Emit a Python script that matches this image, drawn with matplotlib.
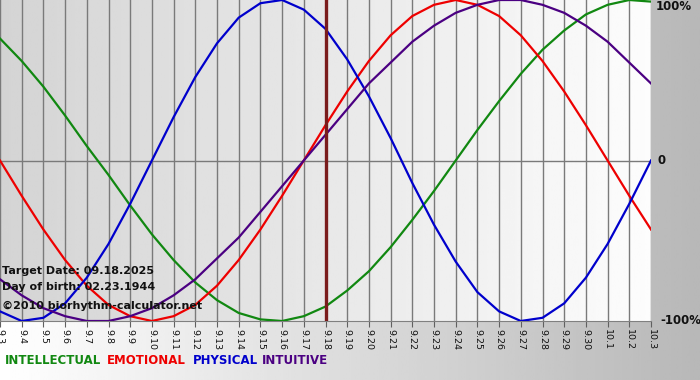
import matplotlib
matplotlib.use('Agg')
import matplotlib.pyplot as plt
import numpy as np

# Days shown on the chart (9.3 .. 10.3), one value per day
days = ['9.3', '9.4', '9.5', '9.6', '9.7', '9.8', '9.9', '9.10', '9.11', '9.12',
        '9.13', '9.14', '9.15', '9.16', '9.17', '9.18', '9.19', '9.20', '9.21',
        '9.22', '9.23', '9.24', '9.25', '9.26', '9.27', '9.28', '9.29', '9.30',
        '10.1', '10.2', '10.3']

physical = [-0.94, -1.00, -0.98, -0.89, -0.73, -0.52, -0.27, 0.00, 0.27, 0.52,
            0.73, 0.89, 0.98, 1.00, 0.94, 0.82, 0.63, 0.40, 0.14, -0.14,
            -0.40, -0.63, -0.82, -0.94, -1.00, -0.98, -0.89, -0.73, -0.52, -0.27, 0.00]
emotional = [0.00, -0.22, -0.43, -0.62, -0.78, -0.90, -0.97, -1.00, -0.97, -0.90,
             -0.78, -0.62, -0.43, -0.22, 0.00, 0.22, 0.43, 0.62, 0.78, 0.90,
             0.97, 1.00, 0.97, 0.90, 0.78, 0.62, 0.43, 0.22, 0.00, -0.22, -0.43]
intellectual = [0.76, 0.62, 0.46, 0.28, 0.09, -0.09, -0.28, -0.46, -0.62, -0.76,
                -0.87, -0.95, -0.99, -1.00, -0.97, -0.91, -0.81, -0.69, -0.54, -0.37,
                -0.19, 0.00, 0.19, 0.37, 0.54, 0.69, 0.81, 0.91, 0.97, 1.00, 0.99]
intuitive = [-0.74, -0.84, -0.92, -0.97, -1.00, -1.00, -0.97, -0.92, -0.84, -0.74,
             -0.61, -0.48, -0.32, -0.16, 0.00, 0.16, 0.32, 0.48, 0.61, 0.74,
             0.84, 0.92, 0.97, 1.00, 1.00, 0.97, 0.92, 0.84, 0.74, 0.61, 0.48]

target_day = '9.18'
target_text = 'Target Date: 09.18.2025'
birth_text = 'Day of birth: 02.23.1944'
copy_text = '\u00a92010 biorhythm-calculator.net'

W, H = 700, 380
fig = plt.figure(figsize=(7, 3.8), dpi=100)

# figure background: white on the left fading to gray on the right
bg = fig.add_axes([0, 0, 1, 1], zorder=-5)
grad = np.linspace(1.0, 0.72, 256)[None, :]
bg.imshow(grad, cmap='gray', vmin=0, vmax=1, aspect='auto', extent=[0, 1, 0, 1])
bg.axis('off')

ax = fig.add_axes([0, 59 / H, 651 / W, 321 / H])
x = np.arange(len(days))
ax.set_xlim(0, len(days) - 1)
ax.set_ylim(-1.0, 1.0)

# plot area background: light gray to white
pgrad = np.linspace(0.83, 0.99, 256)[None, :]
ax.imshow(pgrad, cmap='gray', vmin=0, vmax=1, aspect='auto',
          extent=[0, len(days) - 1, -1, 1], zorder=0)

for xi in x:
    ax.axvline(xi, color='#7a7a7a', lw=1, zorder=1)
ax.axhline(0, color='#7a7a7a', lw=1, zorder=1)

ax.plot(x, intellectual, color='#118811', lw=1.6, zorder=3)
ax.plot(x, emotional, color='#ee0000', lw=1.6, zorder=3)
ax.plot(x, physical, color='#0000cc', lw=1.6, zorder=3)
ax.plot(x, intuitive, color='#4b0082', lw=1.6, zorder=3)

ax.axvline(days.index(target_day), color='#7a1c1c', lw=2.4, zorder=4)

ax.set_xticks(x)
ax.set_xticklabels(days, rotation=-90, fontsize=6.8, color='#111111')
ax.tick_params(axis='x', length=4, color='#606060', pad=2)
ax.set_yticks([])
for s in ['top', 'right', 'left']:
    ax.spines[s].set_visible(False)
ax.spines['bottom'].set_color('#808080')

tkw = dict(fontsize=8, fontweight='bold', color='#111111', zorder=6)
fig.text(2 / W, 1 - 271 / H, target_text, va='center', **tkw)
fig.text(2 / W, 1 - 287 / H, birth_text, va='center', **tkw)
fig.text(2 / W, 1 - 306 / H, copy_text, va='center', **tkw)

rkw = dict(fontsize=8.5, fontweight='bold', color='#111111', va='center')
fig.text(656 / W, 1 - 7 / H, '100%', **rkw)
fig.text(658 / W, 1 - 161 / H, '0', **rkw)
fig.text(660 / W, 1 - 321 / H, '-100%', **rkw)

lkw = dict(fontsize=8.5, fontweight='bold', va='center')
fig.text(5 / W, 1 - 361 / H, 'INTELLECTUAL', color='#118811', **lkw)
fig.text(107 / W, 1 - 361 / H, 'EMOTIONAL', color='#ee0000', **lkw)
fig.text(193 / W, 1 - 361 / H, 'PHYSICAL', color='#0000cc', **lkw)
fig.text(262 / W, 1 - 361 / H, 'INTUITIVE', color='#4b0082', **lkw)

fig.savefig('out.png', dpi=100)
